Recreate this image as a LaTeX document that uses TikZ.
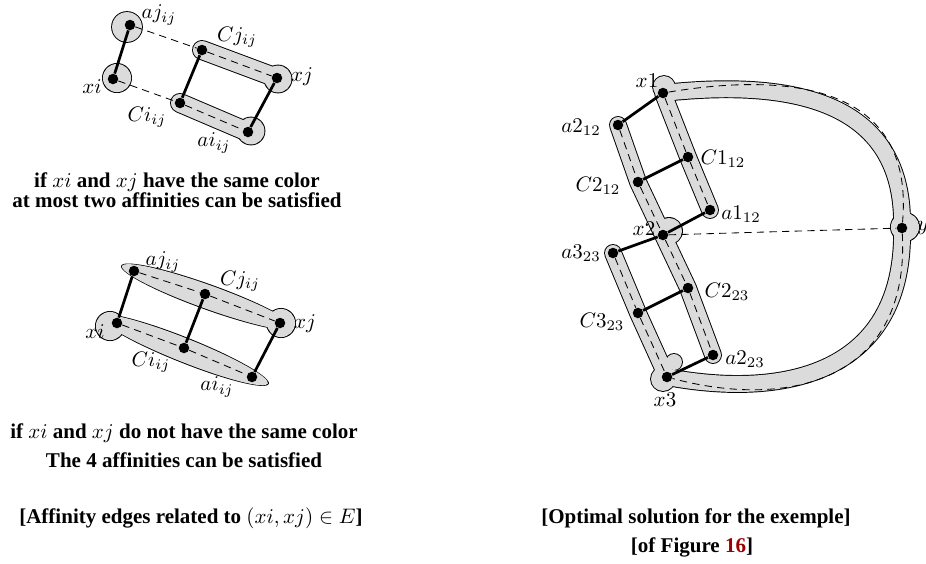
\documentclass[tikz,border=0pt]{standalone}
\usepackage[no-math]{fontspec}
\setmainfont{Liberation Serif}
\usetikzlibrary{positioning,backgrounds}
\definecolor{blobgray}{gray}{0.86}
\definecolor{refred}{rgb}{0.6,0,0}

\begin{document}
\begin{tikzpicture}[x=0.476pt,y=-0.476pt,
    dot/.style={circle,fill=black,inner sep=0pt,minimum size=5pt},
    lbl/.style={inner sep=0pt},
    captxt/.style={font=\bfseries,anchor=base,inner sep=0pt},
    aff/.style={line width=1.3pt},
    gap/.style={line width=0.4pt,dash pattern=on 3.5pt off 2.5pt},
    band/.style={line cap=round,line join=round}
  ]
  \useasboundingbox (0,0) rectangle (926,563);
  \node[dot] (ajA) at (130,25) {};
  \node[dot] (xiA) at (113,79) {};
  \node[dot] (cjA) at (202,50) {};
  \node[dot] (xjA) at (277,78) {};
  \node[dot] (ciA) at (180,103) {};
  \node[dot] (aiA) at (248,132) {};
  \node[lbl] (ajAl) at (159,15) {$aj_{ij}$};
  \node[lbl] (cjAl) at (237,37) {$Cj_{ij}$};
  \node[lbl] (xjAl) at (302,77) {$xj$};
  \node[lbl] (xiAl) at (92,87) {$xi$};
  \node[lbl] (ciAl) at (147,117) {$Ci_{ij}$};
  \node[lbl] (aiAl) at (214,143) {$ai_{ij}$};
  \node[dot] (ajB) at (134,271) {};
  \node[dot] (cjB) at (205,294) {};
  \node[dot] (xjB) at (280,323) {};
  \node[dot] (xiB) at (117,323) {};
  \node[dot] (ciB) at (184,348) {};
  \node[dot] (aiB) at (252,377) {};
  \node[lbl] (ajBl) at (163,262) {$aj_{ij}$};
  \node[lbl] (cjBl) at (240,281) {$Cj_{ij}$};
  \node[lbl] (xjBl) at (305,324) {$xj$};
  \node[lbl] (xiBl) at (95,332) {$xi$};
  \node[lbl] (ciBl) at (151,362) {$Ci_{ij}$};
  \node[lbl] (aiBl) at (217,387) {$ai_{ij}$};
  \node[dot] (x1) at (663,93) {};
  \node[dot] (a212) at (618,125) {};
  \node[dot] (c112) at (688,157) {};
  \node[dot] (c212) at (638,182) {};
  \node[dot] (a112) at (710,210) {};
  \node[dot] (x2) at (663,235) {};
  \node[dot] (a323) at (613,253) {};
  \node[dot] (c223) at (688,288) {};
  \node[dot] (c323) at (638,313) {};
  \node[dot] (a223) at (713,355) {};
  \node[dot] (x3) at (667,377) {};
  \node[dot] (y) at (902,228) {};
  \node[lbl] (x1l) at (647,81) {$x1$};
  \node[lbl] (a212l) at (581,127) {$a2_{12}$};
  \node[lbl] (c112l) at (723,159) {$C1_{12}$};
  \node[lbl] (c212l) at (598,186) {$C2_{12}$};
  \node[lbl] (a112l) at (741,214) {$a1_{12}$};
  \node[lbl] (x2l) at (644,229) {$x2$};
  \node[lbl] (a323l) at (581,253) {$a3_{23}$};
  \node[lbl] (c223l) at (727,292) {$C2_{23}$};
  \node[lbl] (c323l) at (602,322) {$C3_{23}$};
  \node[lbl] (a223l) at (745,359) {$a2_{23}$};
  \node[lbl] (x3l) at (665,400) {$x3$};
  \node[lbl,anchor=west] (yl) at (917,228) {$y$};
  \begin{scope}[on background layer]
    \foreach \e/\c in {0.9pt/black,0pt/blobgray}{
      \fill[\c] (127,27) circle[radius=7.1pt+0.5*\e];
      \fill[\c] (117,78) circle[radius=6.7pt+0.5*\e];
      \draw[band,\c,line width=8.6pt+\e] (cjA.center) -- (xjA.center);
      \fill[\c] (278,79) circle[radius=6.4pt+0.5*\e];
      \draw[band,\c,line width=8.6pt+\e] (ciA.center) -- (aiA.center);
      \fill[\c] (251,131) circle[radius=6.4pt+0.5*\e];
      \fill[\c,rotate around={-19.8:(208,297)}] (208,297) ellipse[x radius=43.5pt+0.5*\e,y radius=5.6pt+0.5*\e];
      \fill[\c] (281,323) circle[radius=6.7pt+0.5*\e];
      \fill[\c,rotate around={-21.8:(184,350)}] (184,350) ellipse[x radius=43pt+0.5*\e,y radius=5.6pt+0.5*\e];
      \fill[\c] (110,326) circle[radius=6.7pt+0.5*\e];
      \draw[band,\c,line width=7.6pt+\e] (a323.center) -- (c323.center) -- (x3.center)
        .. controls (790,400) and (905,370) .. (y.center)
        .. controls (905,105) and (800,78) .. (x1.center) -- (c112.center) -- (a112.center);
      \fill[\c] (664,87) circle[radius=5.2pt+0.5*\e];
      \fill[\c] (663,379) circle[radius=5.7pt+0.5*\e];
      \fill[\c] (674,362) circle[radius=3.8pt+0.5*\e];
      \fill[\c] (905,227) circle[radius=6.7pt+0.5*\e];
      \draw[band,\c,line width=7.6pt+\e] (a212.center) -- (c212.center) -- (x2.center) -- (c223.center) -- (a223.center);
      \fill[\c] (669,231) circle[radius=6.2pt+0.5*\e];
    }
  \end{scope}
  \draw[gap] (ajA) -- (cjA) -- (xjA);
  \draw[gap] (xiA) -- (ciA) -- (aiA);
  \draw[gap] (ajB) -- (cjB) -- (xjB);
  \draw[gap] (xiB) -- (ciB) -- (aiB);
  \draw[gap] (x1) -- (c112) -- (a112);
  \draw[gap] (a212) -- (c212) -- (x2) -- (c223) -- (a223);
  \draw[gap] (a323) -- (c323) -- (x3);
  \draw[gap] (x2) -- (y);
  \draw[gap] (x1) .. controls (790,72) and (915,85) .. (y);
  \draw[gap] (y) .. controls (910,380) and (790,410) .. (x3);
  \draw[aff] (ajA) -- (xiA);
  \draw[aff] (cjA) -- (ciA);
  \draw[aff] (xjA) -- (aiA);
  \draw[aff] (ajB) -- (xiB);
  \draw[aff] (cjB) -- (ciB);
  \draw[aff] (xjB) -- (aiB);
  \draw[aff] (x1) -- (a212);
  \draw[aff] (c112) -- (c212);
  \draw[aff] (a112) -- (x2);
  \draw[aff] (x2) -- (a323);
  \draw[aff] (c223) -- (c323);
  \draw[aff] (a223) -- (x3);
  \node[captxt] (capA1) at (177,187) {if $xi$ and $xj$ have the same color};
  \node[captxt] (capA2) at (177,207) {at most two affinities can be satisfied};
  \node[captxt] (capB1) at (184,438) {if $xi$ and $xj$ do not have the same color};
  \node[captxt] (capB2) at (184,467) {The 4 affinities can be satisfied};
  \node[captxt] (capL) at (191,523) {[Affinity edges related to $(xi,xj)\in E$]};
  \node[captxt] (capR1) at (696,523) {[Optimal solution for the exemple]};
  \node[captxt] (capR2) at (692,552) {[of Figure {\color{refred}16}]};
\end{tikzpicture}
\end{document}
